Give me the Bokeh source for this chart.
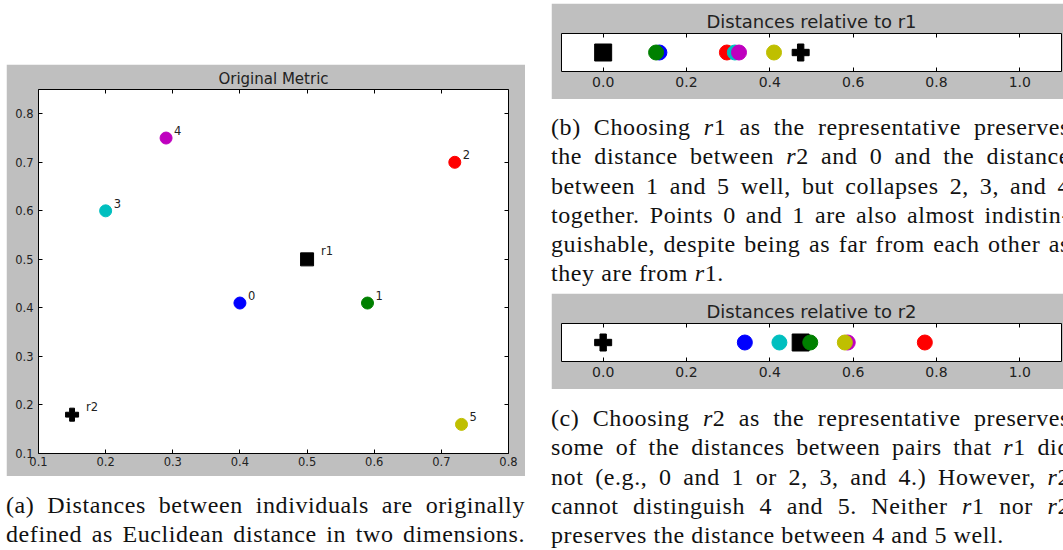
from bokeh.plotting import figure
from bokeh.models import Div, Spacer, LinearAxis, FixedTicker, ColumnDataSource, Range1d
from bokeh.layouts import row, column
from bokeh.embed import file_html
from bokeh.resources import INLINE
from bokeh.core.properties import value

# ---------------- data ----------------
point_names = ["0", "1", "2", "3", "4", "5"]
point_x = [0.40, 0.59, 0.72, 0.20, 0.29, 0.73]
point_y = [0.41, 0.41, 0.70, 0.60, 0.75, 0.16]
point_colors = ["#0000ff", "#008000", "#ff0000", "#00bfbf", "#bf00bf", "#bfbf00"]

rep_names = ["r1", "r2"]
rep_markers = ["square", "plus"]
rep_x = [0.50, 0.15]
rep_y = [0.50, 0.18]

# distances (b) and (c)
dist_r1_points = [0.135, 0.127, 0.297, 0.316, 0.326, 0.410]
dist_r1_reps = [0.0, 0.474]
dist_r2_points = [0.340, 0.497, 0.772, 0.423, 0.587, 0.580]
dist_r2_reps = [0.474, 0.0]

orig_ticks = [0.1, 0.2, 0.3, 0.4, 0.5, 0.6, 0.7, 0.8]
orig_tick_labels = ["0.1", "0.2", "0.3", "0.4", "0.5", "0.6", "0.7", "0.8"]
dist_ticks = [0.0, 0.2, 0.4, 0.6, 0.8, 1.0]
dist_tick_labels = ["0.0", "0.2", "0.4", "0.6", "0.8", "1.0"]

caption_a = [
    "(a) Distances between individuals are originally",
    "defined as Euclidean distance in two dimensions.",
]
caption_b = [
    "(b) Choosing <i>r</i>1 as the representative preserves",
    "the distance between <i>r</i>2 and 0 and the distance",
    "between 1 and 5 well, but collapses 2, 3, and 4",
    "together. Points 0 and 1 are also almost indistin-",
    "guishable, despite being as far from each other as",
    "they are from <i>r</i>1.",
]
caption_c = [
    "(c) Choosing <i>r</i>2 as the representative preserves",
    "some of the distances between pairs that <i>r</i>1 did",
    "not (e.g., 0 and 1 or 2, 3, and 4.) However, <i>r</i>2",
    "cannot distinguish 4 and 5. Neither <i>r</i>1 nor <i>r</i>2",
    "preserves the distance between 4 and 5 well.",
]

# ---------------- style ----------------
GRAY = "#bfbfbf"
SANS = "DejaVu Sans"
SERIF = "'Liberation Serif', 'Times New Roman', serif"


def style_axis(ax, ticks, labels, font_px, standoff, show_labels=True):
    ax.ticker = FixedTicker(ticks=ticks)
    ax.major_label_overrides = {t: l for t, l in zip(ticks, labels)}
    ax.axis_line_color = None
    ax.major_tick_in = 4
    ax.major_tick_out = 0
    ax.major_tick_line_color = "black"
    ax.minor_tick_line_color = None
    ax.major_label_text_font = SANS
    ax.major_label_standoff = standoff
    ax.major_label_text_font_size = f"{font_px}px"
    ax.major_label_text_color = "#222222" if show_labels else None


def base_fig(**kw):
    p = figure(output_backend="svg", toolbar_location=None, **kw)
    p.background_fill_color = "white"
    p.border_fill_color = GRAY
    p.outline_line_color = "black"
    p.outline_line_width = 1
    p.outline_line_alpha = 1.0
    p.grid.visible = False
    p.title.align = "center"
    p.title.text_font = SANS
    p.title.text_font_style = "normal"
    p.title.text_color = "#222222"
    p.title.standoff = 3
    return p


# ---------------- panel (a) ----------------
pa = base_fig(width=519, height=412,
              x_range=Range1d(0.1, 0.8), y_range=Range1d(0.1, 0.85),
              min_border_left=32, min_border_right=17,
              min_border_top=25, min_border_bottom=23,
              title="Original Metric")
pa.title.text_font_size = "15px"
style_axis(pa.xaxis[0], orig_ticks, orig_tick_labels, 11.5, 3)
style_axis(pa.yaxis[0], orig_ticks, orig_tick_labels, 11.5, 5)
top_ax = LinearAxis()
style_axis(top_ax, orig_ticks, orig_tick_labels, 1, 0, show_labels=False)
pa.add_layout(top_ax, "above")
right_ax = LinearAxis()
style_axis(right_ax, orig_ticks, orig_tick_labels, 1, 0, show_labels=False)
pa.add_layout(right_ax, "right")

rep_src = ColumnDataSource(dict(x=rep_x, y=rep_y, m=rep_markers, name=rep_names))
pt_src = ColumnDataSource(dict(x=point_x, y=point_y, c=point_colors, name=point_names))
pa.scatter("x", "y", source=rep_src, marker="m", size=13, fill_color="black", line_color="black")
pa.scatter("x", "y", source=pt_src, marker="circle", size=12, fill_color="c", line_color="c")
pa.text("x", "y", text="name", source=pt_src, x_offset=8, y_offset=-3,
        text_baseline="bottom", text_font=value(SANS), text_font_size="11.5px",
        text_color="#222222")
pa.text("x", "y", text="name", source=rep_src, x_offset=14, y_offset=-1,
        text_baseline="bottom", text_font=value(SANS), text_font_size="11.5px",
        text_color="#222222")


# ---------------- panels (b), (c) ----------------
def dist_fig(title, pts, reps):
    p = base_fig(width=512, height=96,
                 x_range=Range1d(-0.1, 1.1), y_range=Range1d(-1, 1),
                 min_border_left=10, min_border_right=2,
                 min_border_top=30, min_border_bottom=28,
                 y_axis_location=None, title=title)
    p.title.text_font_size = "18px"
    style_axis(p.xaxis[0], dist_ticks, dist_tick_labels, 14, 5)
    tax = LinearAxis()
    style_axis(tax, dist_ticks, dist_tick_labels, 1, 0, show_labels=False)
    p.add_layout(tax, "above")
    rs = ColumnDataSource(dict(x=reps, y=[0] * len(reps), m=rep_markers))
    ps = ColumnDataSource(dict(x=pts, y=[0] * len(pts), c=point_colors))
    p.scatter("x", "y", source=rs, marker="m", size=17, fill_color="black", line_color="black")
    p.scatter("x", "y", source=ps, marker="circle", size=15, fill_color="c", line_color="c")
    return p


pb = dist_fig("Distances relative to r1", dist_r1_points, dist_r1_reps)
pc = dist_fig("Distances relative to r2", dist_r2_points, dist_r2_reps)


# ---------------- captions ----------------
def caption(lines, width, height, pad_top, justify_last):
    parts = []
    for i, ln in enumerate(lines):
        last_align = "justify" if (i < len(lines) - 1 or justify_last) else "left"
        parts.append(
            f'<div style="text-align:justify;text-align-last:{last_align};'
            f'white-space:nowrap;">{ln}</div>')
    html = (f'<div style="width:519px;font-family:{SERIF};font-size:24px;'
            f'letter-spacing:0.6px;line-height:29.3px;color:#111;'
            f'padding-top:{pad_top}px;">'
            + "".join(parts) + "</div>")
    return Div(text=html, width=width, height=height, margin=(0, 0, 0, 0),
               styles={"overflow": "hidden"})


cap_a = caption(caption_a, 519, 73, 15, True)
cap_b = caption(caption_b, 512, 194, 14, False)
cap_c = caption(caption_c, 512, 160, 15, False)

left_col = column(Spacer(width=519, height=61), pa, cap_a, spacing=0)
right_col = column(pb, cap_b, pc, cap_c, spacing=0)
layout = row(left_col, right_col, spacing=26, margin=(3, 0, 0, 6))

open("out.html", "w").write(file_html(layout, INLINE))
